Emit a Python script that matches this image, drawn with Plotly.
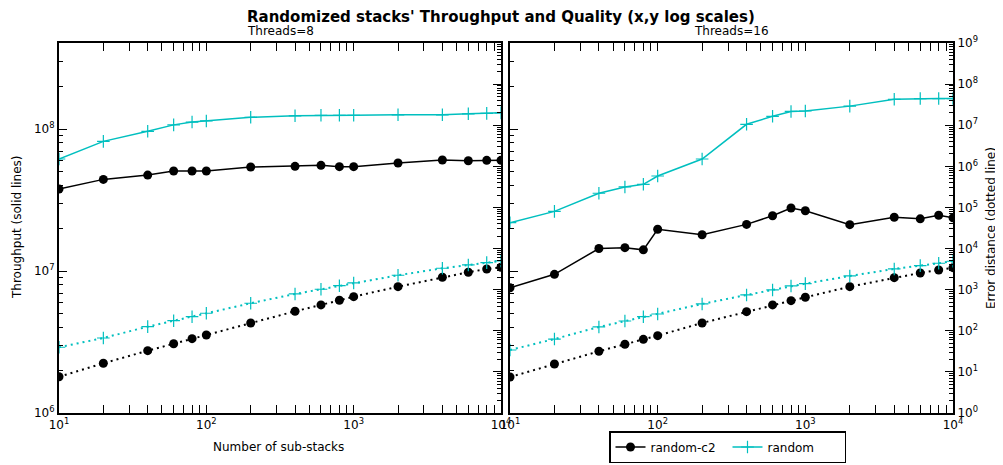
import plotly.graph_objects as go

# ---------------- data ----------------
substacks = [10, 20, 40, 60, 80, 100, 200, 400, 600, 800, 1000, 2000, 4000, 6000, 8000, 10000]

# Threads=8 throughput (solid)
thr8_c2 = [3.78e7, 4.42e7, 4.74e7, 5.06e7, 5.06e7, 5.06e7, 5.4e7, 5.46e7, 5.55e7, 5.43e7, 5.43e7,
           5.77e7, 6.05e7, 5.98e7, 6.02e7, 6.02e7]
thr8_rand = [6.15e7, 8.19e7, 9.64e7, 1.07e8, 1.12e8, 1.14e8, 1.21e8, 1.24e8, 1.25e8, 1.25e8, 1.25e8,
             1.26e8, 1.26e8, 1.28e8, 1.29e8, 1.30e8]
# Threads=8 error distance (dotted)
err8_c2 = [7.6, 16.2, 32.8, 48.5, 64.2, 79, 155, 298, 425, 552, 676, 1183, 2004, 2650, 3190, 3510]
err8_rand = [39.7, 66.8, 126, 176, 220, 267, 467, 786, 1023, 1250, 1455, 2240, 3317, 3990, 4540, 4990]

# Threads=16 throughput (solid)
thr16_c2 = [7.63e6, 9.48e6, 1.44e7, 1.46e7, 1.41e7, 1.97e7, 1.80e7, 2.13e7, 2.45e7, 2.78e7, 2.66e7,
            2.12e7, 2.39e7, 2.33e7, 2.47e7, 2.37e7]
thr16_rand = [2.19e7, 2.63e7, 3.53e7, 3.91e7, 4.08e7, 4.67e7, 6.15e7, 1.08e8, 1.23e8, 1.33e8, 1.34e8,
              1.45e8, 1.62e8, 1.64e8, 1.64e8, 1.64e8]
# Threads=16 error distance (dotted)
err16_c2 = [7.5, 15.6, 31.7, 47, 62, 76, 155, 292, 425, 540, 653, 1183, 1960, 2550, 3015, 3430]
err16_rand = [34.1, 63, 124, 173, 220, 256, 449, 743, 984, 1230, 1400, 2155, 3190, 3840, 4390, 4910]

series_names = ["random-c2", "random"]
x_ticks = [10, 100, 1000, 10000]
x_ticktext = ["10<sup>1</sup>", "10<sup>2</sup>", "10<sup>3</sup>", "10<sup>4</sup>"]
thr_ticks = [1e6, 1e7, 1e8]
thr_ticktext = ["10<sup>6</sup>", "10<sup>7</sup>", "10<sup>8</sup>"]
err_ticks = [10 ** k for k in range(10)]
err_ticktext = ["10<sup>%d</sup>" % k for k in range(10)]

# ---------------- styling ----------------
W, H = 1003, 465
OFF = 8  # default page body margin of the browser
BLACK = "#000000"
CYAN = "#00BFBF"
FONT = "DejaVu Sans"


def minor_vals(lo, hi):
    vals = []
    for e in range(lo, hi):
        for m in range(2, 10):
            vals.append(m * 10 ** e)
    return vals


def px_x(p):
    return (p - OFF) / W


def px_y(p):
    return 1 - (p - OFF) / H


xl_dom = [px_x(59), px_x(501)]
xr_dom = [px_x(510), px_x(953)]
y_dom = [px_y(413), px_y(43)]

fig = go.Figure()

c2_marker = dict(symbol="circle", size=9, color=BLACK)
rd_marker = dict(symbol="cross-thin-open", size=9, color=CYAN, line=dict(color=CYAN, width=1.2))
DOT = "2px,4px"

# left panel
fig.add_trace(go.Scatter(x=substacks, y=thr8_c2, mode="lines+markers", name=series_names[0],
                         line=dict(color=BLACK, width=1.5), marker=c2_marker,
                         xaxis="x", yaxis="y", showlegend=True))
fig.add_trace(go.Scatter(x=substacks, y=thr8_rand, mode="lines+markers", name=series_names[1],
                         line=dict(color=CYAN, width=1.5), marker=rd_marker,
                         xaxis="x", yaxis="y", showlegend=True))
fig.add_trace(go.Scatter(x=substacks, y=err8_c2, mode="lines+markers", name=series_names[0],
                         line=dict(color=BLACK, width=2, dash=DOT), marker=c2_marker,
                         xaxis="x", yaxis="y3", showlegend=False))
fig.add_trace(go.Scatter(x=substacks, y=err8_rand, mode="lines+markers", name=series_names[1],
                         line=dict(color=CYAN, width=2, dash=DOT), marker=rd_marker,
                         xaxis="x", yaxis="y3", showlegend=False))
# right panel
fig.add_trace(go.Scatter(x=substacks, y=thr16_c2, mode="lines+markers", name=series_names[0],
                         line=dict(color=BLACK, width=1.5), marker=c2_marker,
                         xaxis="x2", yaxis="y2", showlegend=False))
fig.add_trace(go.Scatter(x=substacks, y=thr16_rand, mode="lines+markers", name=series_names[1],
                         line=dict(color=CYAN, width=1.5), marker=rd_marker,
                         xaxis="x2", yaxis="y2", showlegend=False))
fig.add_trace(go.Scatter(x=substacks, y=err16_c2, mode="lines+markers", name=series_names[0],
                         line=dict(color=BLACK, width=2, dash=DOT), marker=c2_marker,
                         xaxis="x2", yaxis="y4", showlegend=False))
fig.add_trace(go.Scatter(x=substacks, y=err16_rand, mode="lines+markers", name=series_names[1],
                         line=dict(color=CYAN, width=2, dash=DOT), marker=rd_marker,
                         xaxis="x2", yaxis="y4", showlegend=False))

tickfont = dict(family=FONT, size=12, color=BLACK)

xcommon = dict(type="log", range=[1, 4], showgrid=False, zeroline=False,
               showline=True, linecolor=BLACK, linewidth=2, mirror="allticks",
               ticks="inside", ticklen=8, tickwidth=1, tickcolor=BLACK,
               tickvals=x_ticks, ticktext=x_ticktext, tickfont=tickfont,
               minor=dict(ticks="inside", ticklen=4, tickwidth=1, tickcolor=BLACK,
                          tickvals=minor_vals(1, 4), showgrid=False),
               automargin=False)

ythr = dict(type="log", range=[6, 8.606], showgrid=False, zeroline=False,
            showline=True, linecolor=BLACK, linewidth=2,
            ticks="inside", ticklen=8, tickwidth=1, tickcolor=BLACK,
            tickvals=thr_ticks, ticktext=thr_ticktext, tickfont=tickfont,
            minor=dict(ticks="inside", ticklen=4, tickwidth=1, tickcolor=BLACK,
                       tickvals=minor_vals(6, 9), showgrid=False),
            automargin=False, domain=y_dom)

yerr = dict(type="log", range=[0, 9], showgrid=False, zeroline=False,
            showline=True, linecolor=BLACK, linewidth=2,
            ticks="inside", ticklen=8, tickwidth=1, tickcolor=BLACK,
            tickvals=err_ticks, ticktext=err_ticktext, tickfont=tickfont,
            minor=dict(ticks="inside", ticklen=4, tickwidth=1, tickcolor=BLACK,
                       tickvals=minor_vals(0, 9), showgrid=False),
            automargin=False, side="right")


def label(text, px, py, size=12, angle=0):
    return dict(text=text, x=px_x(px), y=px_y(py), xref="paper", yref="paper",
                xanchor="center", yanchor="middle", showarrow=False, textangle=angle,
                font=dict(family=FONT, size=size, color=BLACK))


fig.update_layout(
    width=W, height=H,
    margin=dict(l=0, r=0, t=0, b=0),
    paper_bgcolor="white", plot_bgcolor="white",
    font=dict(family=FONT, color=BLACK, size=12),
    xaxis=dict(xcommon, domain=xl_dom, anchor="y"),
    xaxis2=dict(xcommon, domain=xr_dom, anchor="y2"),
    yaxis=dict(ythr, anchor="x"),
    yaxis2=dict(ythr, anchor="x2", showticklabels=False),
    yaxis3=dict(yerr, overlaying="y", anchor="x", showticklabels=False),
    yaxis4=dict(yerr, overlaying="y2", anchor="x2", showticklabels=True),
    showlegend=True,
    legend=dict(orientation="h", x=px_x(609), y=px_y(463), xanchor="left", yanchor="bottom",
                bordercolor=BLACK, borderwidth=1.5, bgcolor="white",
                font=dict(family=FONT, size=12, color=BLACK),
                entrywidth=72, entrywidthmode="pixels", tracegroupgap=0),
    annotations=[
        label("<b>Randomized stacks' Throughput and Quality (x,y log scales)</b>", 501, 17, size=15),
        label("Threads=8", 280, 31),
        label("Threads=16", 731, 31),
        label("Throughput (solid lines)", 17, 228, angle=-90),
        label("Error distance (dotted line)", 991, 228, angle=-90),
        label("Number of sub-stacks", 278, 447),
    ],
)

fig.write_html("out.html", config={"displayModeBar": False})
